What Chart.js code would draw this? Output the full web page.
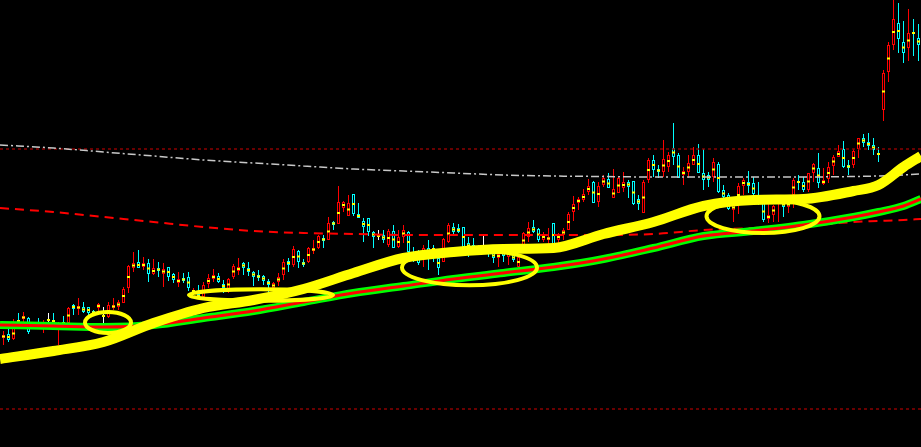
<!DOCTYPE html>
<html>
<head>
<meta charset="utf-8">
<script src="https://cdn.jsdelivr.net/npm/chart.js@4.4.1/dist/chart.umd.min.js"></script>
<style>
html, body { margin: 0; padding: 0; background: #000; overflow: hidden; }
canvas { display: block; }
</style>
</head>
<body>
<canvas id="chart" width="921" height="447"></canvas>
<script>
"use strict";

// one candle per index, 184 bars
var opens = [
  10.9, 11.3, 10.8, 12.7, 12.8, 12.9, 12.2, 12.5, 12.3, 12.7,
  12.7, 12.2, 12.5, 12.4, 14.2, 13.8, 14.0, 14.0, 13.6, 13.9,
  13.1, 13.0, 13.9, 14.0, 14.4, 15.9, 17.9, 18.5, 18.0, 18.4,
  17.3, 17.9, 17.3, 18.0, 17.3, 16.4, 16.9, 17.0, 15.5, 15.3,
  15.0, 16.3, 16.8, 17.1, 16.3, 15.7, 17.0, 17.6, 18.4, 17.9,
  17.5, 17.2, 17.1, 16.6, 15.9, 16.5, 17.2, 18.6, 18.2, 19.6,
  18.5, 18.5, 19.6, 19.9, 20.9, 20.7, 22.5, 22.3, 23.9, 23.1,
  25.3, 23.3, 22.6, 22.9, 21.5, 21.1, 21.2, 20.2, 21.6, 20.0,
  21.0, 21.5, 19.5, 19.5, 19.2, 19.9, 19.9, 18.9, 18.5, 20.5,
  22.0, 21.9, 22.0, 20.4, 20.2, 19.5, 20.0, 20.0, 19.4, 18.9,
  19.6, 19.0, 19.2, 18.0, 19.9, 21.0, 22.0, 21.8, 20.7, 20.7,
  22.4, 20.7, 21.2, 21.7, 23.5, 24.4, 24.7, 25.5, 26.5, 24.5,
  26.2, 26.8, 24.9, 25.4, 25.9, 26.5, 26.6, 24.8, 23.4, 26.7,
  28.7, 27.8, 27.5, 28.0, 29.9, 29.2, 27.2, 27.5, 28.2, 29.2,
  27.4, 27.2, 27.0, 28.3, 25.7, 25.2, 23.7, 24.3, 26.1, 26.5,
  26.4, 24.8, 24.4, 22.8, 23.2, 24.4, 24.5, 24.0, 25.2, 26.6,
  26.5, 25.7, 27.4, 27.9, 26.3, 26.8, 28.1, 29.0, 29.8, 28.2,
  28.2, 29.8, 30.9, 30.5, 30.2, 29.4, 33.7, 37.5, 40.2, 42.4,
  40.5, 39.9, 41.5, 40.9
];
var highs = [
  11.6, 11.8, 12.8, 13.4, 13.5, 13.0, 12.5, 12.9, 12.7, 13.4,
  13.4, 12.5, 13.1, 14.0, 14.3, 14.9, 14.5, 14.0, 13.7, 14.4,
  14.0, 14.5, 14.9, 14.7, 16.0, 18.2, 19.5, 19.7, 19.0, 18.8,
  18.8, 18.5, 18.4, 18.0, 17.4, 17.5, 17.4, 17.5, 15.9, 16.2,
  16.5, 17.3, 17.8, 17.4, 16.7, 16.9, 18.3, 18.9, 18.5, 18.5,
  17.6, 17.7, 17.2, 16.8, 16.5, 17.4, 18.8, 18.9, 20.1, 19.7,
  18.8, 20.0, 20.7, 21.2, 21.2, 23.0, 22.6, 26.1, 24.6, 25.2,
  25.3, 24.4, 22.9, 22.9, 21.6, 21.7, 21.7, 21.8, 22.2, 21.7,
  22.2, 21.6, 20.0, 19.7, 20.2, 20.7, 20.2, 19.0, 20.9, 22.4,
  22.4, 22.3, 22.0, 21.0, 20.9, 20.2, 21.1, 20.2, 19.9, 19.5,
  20.0, 20.2, 19.4, 19.2, 21.5, 22.5, 22.7, 21.9, 21.5, 21.9,
  22.4, 21.4, 21.9, 23.5, 25.1, 25.0, 25.8, 26.8, 26.6, 26.5,
  27.2, 27.4, 27.8, 27.0, 27.5, 26.7, 26.6, 25.2, 26.7, 28.9,
  29.2, 28.2, 30.7, 29.5, 32.4, 29.4, 28.0, 29.2, 30.0, 30.3,
  29.8, 27.5, 28.9, 28.5, 26.2, 25.4, 24.4, 26.4, 26.9, 27.6,
  27.0, 26.5, 24.7, 24.5, 24.2, 24.7, 24.7, 24.7, 26.9, 27.2,
  27.0, 27.4, 28.4, 29.4, 27.9, 28.5, 29.2, 30.2, 30.6, 28.7,
  29.8, 30.9, 31.3, 31.4, 30.9, 30.0, 37.7, 40.5, 45.5, 44.4,
  42.6, 43.8, 42.8, 42.3
];
var lows = [
  10.2, 10.5, 10.7, 12.4, 12.4, 11.3, 12.1, 12.2, 11.4, 12.2,
  12.4, 10.2, 12.2, 12.4, 13.2, 13.2, 13.4, 13.2, 13.1, 13.5,
  12.2, 12.9, 13.7, 13.7, 14.4, 15.4, 17.5, 17.9, 17.7, 16.5,
  17.2, 17.0, 16.0, 16.6, 16.4, 16.0, 16.4, 15.6, 15.4, 14.9,
  15.0, 15.9, 16.5, 16.4, 15.4, 15.4, 16.8, 17.2, 17.2, 17.1,
  16.1, 16.6, 16.2, 15.4, 15.5, 16.1, 16.7, 17.5, 18.0, 17.9,
  18.0, 18.4, 19.3, 19.8, 19.9, 20.7, 21.7, 22.3, 23.5, 23.1,
  23.1, 22.9, 20.5, 21.1, 19.9, 20.7, 20.4, 20.0, 19.9, 19.9,
  20.4, 19.3, 18.5, 18.2, 18.0, 17.7, 18.5, 17.2, 18.5, 20.4,
  21.2, 21.4, 19.4, 19.0, 19.2, 19.2, 19.4, 19.0, 18.4, 18.0,
  18.5, 18.2, 18.5, 17.4, 19.4, 20.5, 21.4, 20.5, 20.5, 20.0,
  19.9, 19.7, 20.7, 21.7, 22.6, 23.7, 24.5, 25.2, 24.4, 24.0,
  26.0, 25.9, 24.9, 25.4, 25.5, 24.9, 24.2, 23.7, 23.4, 26.4,
  27.0, 26.9, 27.0, 27.5, 28.2, 26.9, 26.2, 26.9, 28.2, 27.4,
  25.7, 26.0, 26.5, 25.4, 24.4, 23.7, 22.5, 23.3, 25.2, 25.4,
  24.7, 24.2, 22.5, 22.4, 22.5, 22.5, 23.0, 23.4, 23.9, 25.7,
  25.5, 25.5, 26.5, 25.9, 26.2, 26.4, 27.2, 29.0, 27.9, 27.2,
  27.9, 28.9, 30.0, 29.7, 29.2, 28.5, 32.6, 36.5, 39.7, 39.4,
  38.4, 38.6, 39.1, 38.6
];
var closes = [
  11.2, 10.7, 11.9, 12.5, 13.1, 11.5, 12.4, 12.3, 12.5, 12.7,
  12.5, 12.4, 12.3, 13.9, 13.8, 14.1, 13.5, 13.4, 13.3, 14.3,
  13.1, 14.2, 14.2, 14.5, 15.8, 18.1, 18.4, 17.9, 18.4, 17.3,
  17.9, 17.6, 17.8, 17.0, 16.7, 16.8, 16.6, 15.9, 15.7, 14.9,
  16.2, 16.9, 17.2, 16.5, 15.9, 16.8, 18.1, 18.0, 17.9, 17.5,
  17.0, 16.9, 16.6, 16.2, 16.4, 17.0, 18.5, 18.2, 19.8, 18.5,
  18.2, 19.9, 19.9, 21.1, 20.6, 22.4, 22.2, 24.5, 24.5, 24.4,
  23.3, 22.9, 22.0, 21.5, 21.0, 21.1, 20.7, 21.6, 19.9, 21.0,
  21.7, 19.5, 19.0, 18.4, 19.9, 18.8, 19.7, 17.9, 20.8, 22.2,
  21.5, 21.5, 20.0, 19.9, 19.7, 20.0, 20.0, 19.4, 18.9, 19.3,
  19.1, 19.7, 18.7, 19.0, 21.4, 21.9, 21.5, 20.7, 21.3, 21.0,
  20.0, 21.3, 21.7, 23.3, 24.3, 24.8, 25.3, 26.1, 24.4, 26.1,
  26.9, 25.9, 25.8, 26.9, 26.5, 26.0, 24.3, 24.3, 26.5, 28.7,
  27.7, 27.5, 28.8, 29.2, 29.0, 26.9, 27.6, 28.4, 29.2, 27.4,
  26.7, 26.7, 28.5, 25.5, 25.0, 23.8, 24.2, 26.1, 26.7, 26.1,
  25.3, 24.5, 22.7, 23.2, 24.1, 24.7, 24.0, 24.5, 26.7, 26.4,
  25.7, 27.4, 28.3, 26.4, 26.7, 28.0, 29.0, 29.6, 28.0, 27.9,
  29.6, 30.9, 30.4, 30.1, 29.7, 29.2, 37.4, 40.2, 42.8, 40.8,
  39.4, 41.4, 41.3, 40.2
];

// moving averages, read at these bar positions
var maIndex   = [-0.7, 10, 20, 30, 40, 50, 60, 70, 80, 90, 100, 110, 120, 130, 140, 150, 160, 170, 175, 180, 183.5];
var maYellow  = [8.8, 9.6, 10.5, 12.4, 13.9, 14.7, 15.8, 17.4, 18.9, 19.5, 19.8, 19.9, 21.3, 22.5, 24.1, 24.7, 24.8, 25.6, 26.2, 28.0, 29.1];
var maGreen   = [12.2, 12.1, 12.0, 12.2, 12.9, 13.6, 14.5, 15.4, 16.1, 16.8, 17.4, 18.0, 18.8, 19.9, 21.1, 21.6, 22.2, 23.0, 23.5, 24.1, 24.8];
var maRed     = [12.2, 12.1, 12.0, 12.2, 12.9, 13.6, 14.5, 15.4, 16.1, 16.8, 17.4, 18.0, 18.8, 19.9, 21.1, 21.6, 22.2, 23.0, 23.5, 24.1, 24.8];
var maGray    = [30.2, 29.9, 29.5, 29.1, 28.7, 28.4, 28.1, 27.8, 27.6, 27.4, 27.2, 27.1, 27.05, 27.0, 27.0, 27.0, 27.0, 27.05, 27.1, 27.2, 27.3];
var maRedDash = [23.9, 23.5, 23.0, 22.5, 22.0, 21.6, 21.4, 21.3, 21.2, 21.2, 21.2, 21.2, 21.2, 21.3, 21.7, 21.9, 22.1, 22.5, 22.6, 22.7, 22.8];

// horizontal levels
var levels = [29.8, 3.8];

// hand-drawn circles: centre (bar, price) and radii (bars, price)
var circleX  = [20.9, 51.5, 93.2, 151.9];
var circleY  = [12.45, 15.2, 17.95, 23.07];
var circleRX = [4.6, 14.4, 13.5, 11.3];
var circleRY = [1.05, 0.58, 1.78, 1.67];

var X_MIN = -0.7, X_MAX = 183.5;

function candleColor(i) {
    if (i === undefined) return "#ff0000";
    if (closes[i] > opens[i]) return "#ff0000";
    if (closes[i] < opens[i]) return "#00ffff";
    return "#ffffff";
}

var wicks = opens.map(function (o, i) {
    return {x: i, y: [lows[i], highs[i]]};
});
var bodies = opens.map(function (o, i) {
    var lo = Math.min(o, closes[i]), hi = Math.max(o, closes[i]);
    if (hi - lo < 0.1) { lo -= 0.06; hi += 0.06; }
    return {x: i, y: [lo, hi]};
});
var marks = opens.map(function (o, i) {
    return {x: i, y: (o + closes[i]) / 2};
});

function points(values) {
    return maIndex.map(function (x, k) { return {x: x, y: values[k]}; });
}

function lineSet(values, color, width, dash, order) {
    return {
        type: "line",
        data: points(values),
        borderColor: color,
        borderWidth: width,
        borderDash: dash || [],
        pointRadius: 0,
        fill: false,
        cubicInterpolationMode: "monotone",
        order: order,
    };
}

function levelSet(value) {
    return {
        type: "line",
        data: [{x: X_MIN, y: value}, {x: X_MAX, y: value}],
        borderColor: "#8b0000",
        borderWidth: 1.5,
        borderDash: [3, 3],
        pointRadius: 0,
        fill: false,
        order: 15,
    };
}

var backdrop = {
    id: "backdrop",
    beforeDraw: function (chart) {
        var c = chart.ctx;
        c.save();
        c.fillStyle = "#000";
        c.fillRect(0, 0, chart.width, chart.height);
        c.restore();
    }
};

var circles = {
    id: "circles",
    afterDatasetsDraw: function (chart) {
        var c = chart.ctx, xs = chart.scales.x, ys = chart.scales.y;
        c.save();
        c.strokeStyle = "#ffff00";
        c.lineWidth = 4;
        circleX.forEach(function (cx, k) {
            var px = xs.getPixelForValue(cx);
            var py = ys.getPixelForValue(circleY[k]);
            var rx = Math.abs(xs.getPixelForValue(cx + circleRX[k]) - px);
            var ry = Math.abs(ys.getPixelForValue(circleY[k] + circleRY[k]) - py);
            c.beginPath();
            c.ellipse(px, py, rx, ry, 0, 0, Math.PI * 2);
            c.stroke();
        });
        c.restore();
    }
};

var ctx = document.getElementById("chart").getContext("2d");

new Chart(ctx, {
    type: "bar",
    data: {
        datasets: [
            {
                type: "bar",
                data: wicks,
                backgroundColor: function (c) { return candleColor(c.dataIndex); },
                borderWidth: 0,
                grouped: false,
                maxBarThickness: 1,
                inflateAmount: 0,
                order: 30,
            },
            {
                type: "bar",
                data: bodies,
                backgroundColor: "#000000",
                borderColor: function (c) { return candleColor(c.dataIndex); },
                borderWidth: 1,
                borderSkipped: false,
                grouped: false,
                maxBarThickness: 3,
                inflateAmount: 0,
                order: 29,
            },
            {
                type: "scatter",
                data: marks,
                pointStyle: "line",
                pointRadius: 1.5,
                borderColor: "#ffff00",
                borderWidth: 2,
                order: 28,
            },
            levelSet(levels[0]),
            levelSet(levels[1]),
            lineSet(maGray, "#c8c8c8", 1.5, [8, 3, 2, 3], 14),
            lineSet(maRedDash, "#ff0000", 2, [9, 6], 13),
            lineSet(maGreen, "#00ff00", 8, null, 12),
            lineSet(maRed, "#ff0000", 3, null, 11),
            lineSet(maYellow, "#ffff00", 10, null, 10),
        ],
    },
    options: {
        responsive: false,
        animation: false,
        devicePixelRatio: 1,
        events: [],
        layout: {padding: 0, autoPadding: false},
        plugins: {
            legend: {display: false},
            tooltip: {enabled: false},
        },
        scales: {
            x: {type: "linear", min: X_MIN, max: X_MAX, offset: false, display: false},
            y: {type: "linear", min: 0, max: 44.7, display: false},
        },
    },
    plugins: [backdrop, circles],
});
</script>
</body>
</html>
